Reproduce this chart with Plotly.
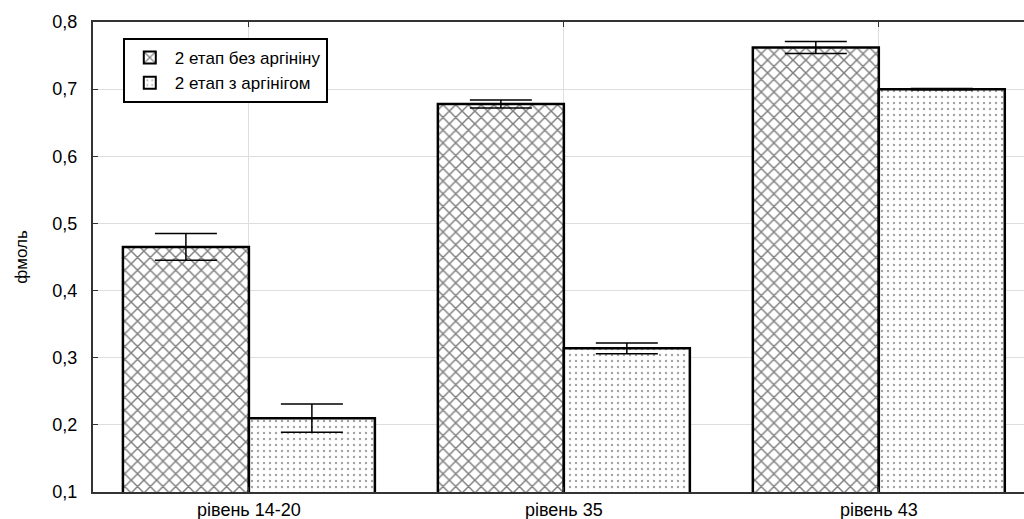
import plotly.graph_objects as go

categories = ["рівень 14-20", "рівень 35", "рівень 43"]
series_names = ["2 етап без аргініну", "2 етап з аргінігом"]
values_without = [0.465, 0.678, 0.762]
errors_without = [0.020, 0.006, 0.009]
values_with = [0.210, 0.314, 0.700]
errors_with = [0.021, 0.008, 0.001]
y_ticks = [0.1, 0.2, 0.3, 0.4, 0.5, 0.6, 0.7, 0.8]

FONT = "Liberation Sans, Arial, sans-serif"

fig = go.Figure()
fig.add_trace(go.Bar(
    x=categories, y=values_without, name=series_names[0],
    error_y=dict(type="data", array=errors_without, color="black", thickness=1.5, width=31),
    marker=dict(color="white", line=dict(color="black", width=2.5),
                pattern=dict(shape="x", size=9, solidity=0.3, fgcolor="black", bgcolor="white")),
))
fig.add_trace(go.Bar(
    x=categories, y=values_with, name=series_names[1],
    error_y=dict(type="data", array=errors_with, color="black", thickness=1.5, width=31),
    marker=dict(color="white", line=dict(color="black", width=2.5),
                pattern=dict(shape=".", size=6, solidity=0.12, fgcolor="#444444", bgcolor="white")),
))

fig.update_layout(
    width=1024, height=519,
    margin=dict(l=93, r=0, t=22, b=27),
    paper_bgcolor="white", plot_bgcolor="white",
    barmode="group", bargap=0.2, bargroupgap=0,
    separators=", ",
    font=dict(family=FONT, size=18, color="black"),
    showlegend=True,
    legend=dict(x=0.032, y=0.966, xanchor="left", yanchor="top",
                bgcolor="white", bordercolor="black", borderwidth=2,
                font=dict(family=FONT, size=17, color="black"),
                tracegroupgap=0, itemwidth=40, itemsizing="constant"),
)
fig.update_xaxes(
    range=[-0.495, 2.461],
    showgrid=True, gridcolor="#dedede", gridwidth=1,
    showline=True, linecolor="#333333", linewidth=2, mirror="ticks",
    ticks="inside", ticklen=5, tickcolor="#333333",
    tickfont=dict(family=FONT, size=18),
)
fig.update_yaxes(
    range=[0.1, 0.8], tickvals=y_ticks, tickformat=".1f",
    showgrid=True, gridcolor="#dedede", gridwidth=1,
    showline=True, linecolor="#333333", linewidth=2,
    ticks="inside", ticklen=5, tickcolor="#333333",
    ticklabelstandoff=10,
    tickfont=dict(family=FONT, size=18),
    title=dict(text="фмоль", font=dict(family=FONT, size=17), standoff=20),
    zeroline=False,
)

fig.write_html("out.html")
